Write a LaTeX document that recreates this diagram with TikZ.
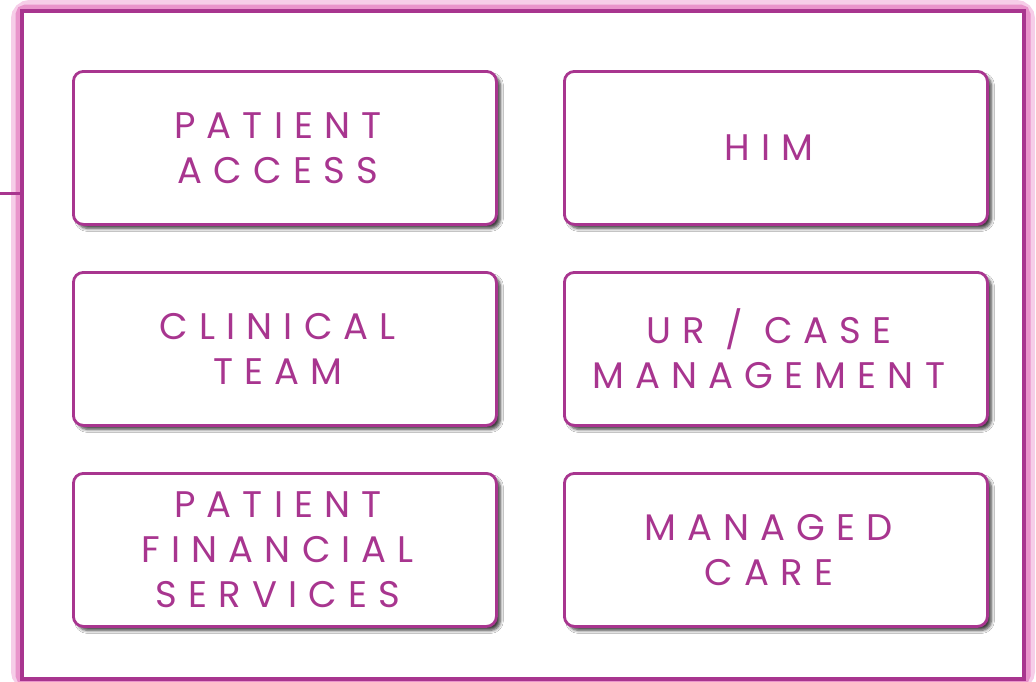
\documentclass[tikz,border=0pt]{standalone}
\usepackage{fontspec}
\setmainfont{Poppins}
\newfontfamily\boxfont[LetterSpace=30]{Poppins}
\usetikzlibrary{shadows.blur}
\definecolor{mag}{HTML}{A8358F}
\definecolor{glow}{HTML}{E994CB}
\definecolor{glowlight}{HTML}{F6CDE8}
\newcommand{\boxline}[1]{\hspace*{-14pt}#1}
\begin{document}
\begin{tikzpicture}[x=1pt,y=-1pt,
  unit/.style={draw=mag, line width=2.8pt, fill=white, rounded corners=10pt,
    minimum width=423pt, minimum height=153pt, anchor=north west,
    blur shadow={shadow xshift=4pt, shadow yshift=-4pt, shadow blur radius=3pt, shadow blur steps=6, shadow opacity=75},
    text=mag, font=\boxfont\fontsize{37}{45}\selectfont, align=center, inner sep=0pt}]
\useasboundingbox (0,0) rectangle (1036,681);
% outer frame with glow
\draw[glowlight, line width=22pt, rounded corners=8pt] (22,11) rectangle (1024,679);
\draw[glow, line width=13pt, rounded corners=4pt] (22,11) rectangle (1024,679);
\draw[mag, line width=3.5pt, fill=white] (22,11) rectangle (1024,679);
\coordinate (tickA) at (0,193);
\coordinate (tickB) at (20.5,193);
\draw[mag, line width=3pt] (tickA) -- (tickB);
% boxes
\node[unit] (pa) at (72,70) {\boxline{PATIENT}\\\boxline{ACCESS}};
\node[unit] (him) at (563,70) {\boxline{HIM}};
\node[unit] (ct) at (72,271) {\boxline{CLINICAL}\\\boxline{TEAM}};
\node[unit] (ur) at (563,271) {\boxline{UR / CASE}\\\boxline{MANAGEMENT}};
\node[unit] (pfs) at (72,472) {\boxline{PATIENT}\\\boxline{FINANCIAL}\\\boxline{SERVICES}};
\node[unit] (mc) at (563,472) {\boxline{MANAGED}\\\boxline{CARE}};
\end{tikzpicture}
\end{document}
